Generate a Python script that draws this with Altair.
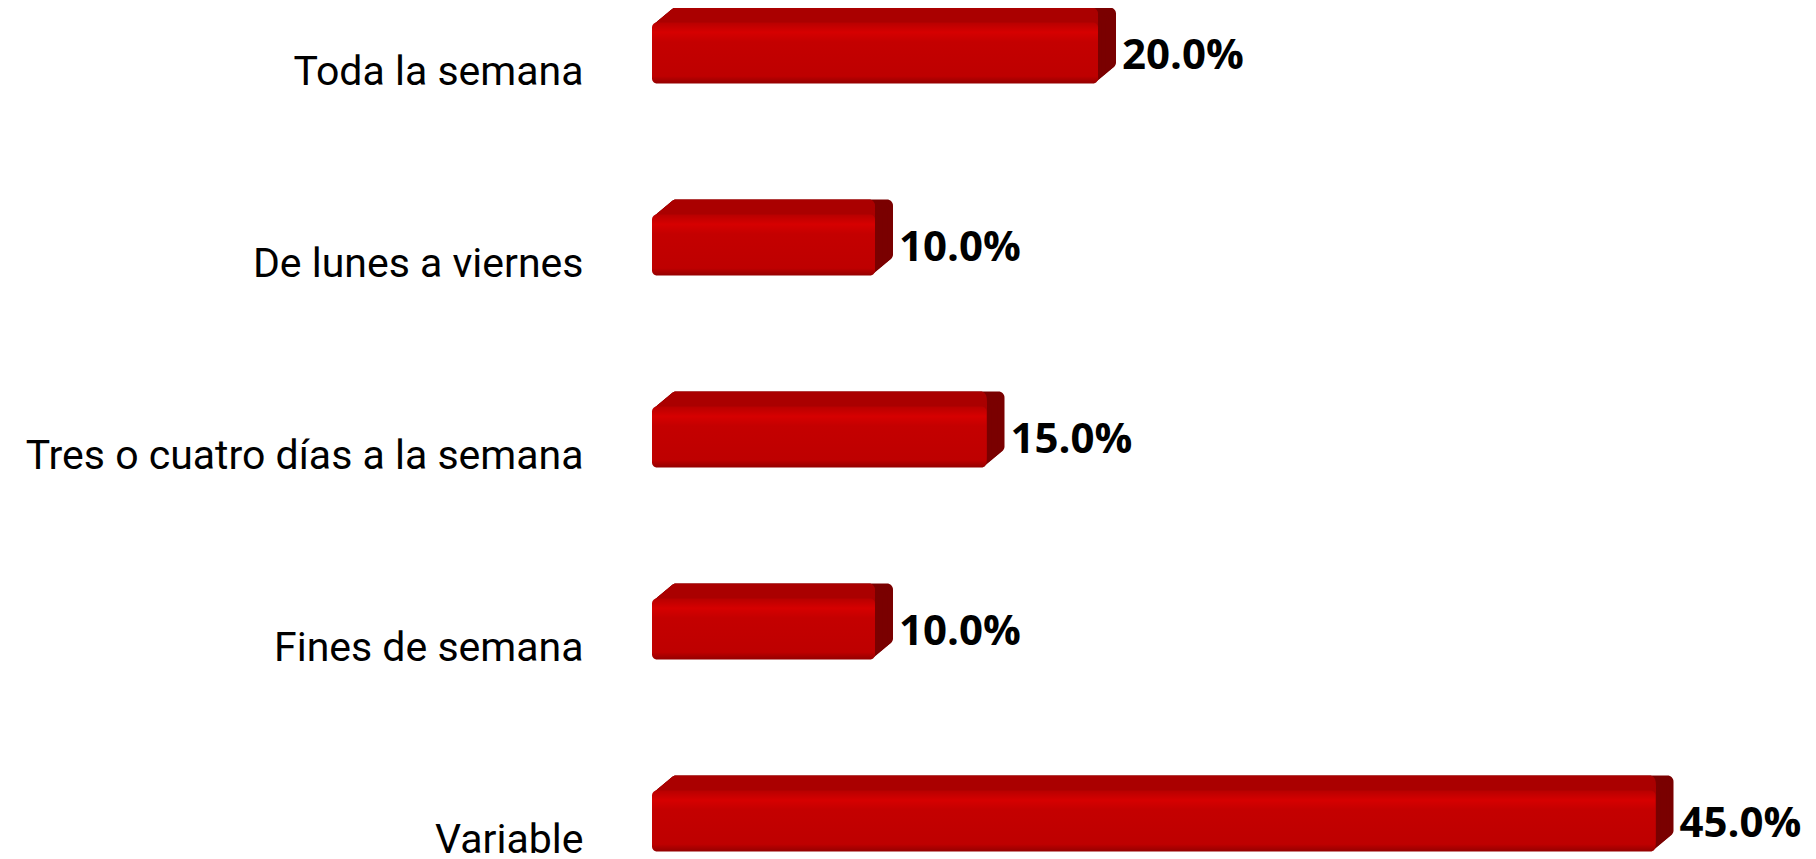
import altair as alt
import pandas as pd

categories = ["Toda la semana", "De lunes a viernes", "Tres o cuatro días a la semana",
              "Fines de semana", "Variable"]
values = [20.0, 10.0, 15.0, 10.0, 45.0]
value_labels = ["20.0%", "10.0%", "15.0%", "10.0%", "45.0%"]

df = pd.DataFrame({"cat": categories, "val": values, "lab": value_labels,
                   "pos": list(range(len(categories)))})

# layout constants (pixels)
PLOT_W, PLOT_H = 1115, 851
X_MAX = 50.0
PXP = PLOT_W / X_MAX          # pixels per percent
ROW = 192.0                   # pixels per category row
TOP0 = 64.0                   # first row centre from plot top
BAR = 61.0                    # front face thickness
CENTER = -19.0                # front face centre relative to label centre
N = 10
DEPTH_X, DEPTH_Y = 18.0, -15.0

xs = alt.Scale(domain=[0, X_MAX])
ys = alt.Scale(domain=[-TOP0 / ROW, (PLOT_H - TOP0) / ROW], reverse=True, nice=False, zero=False)

label_expr = "[" + ",".join("'" + c + "'" for c in categories) + "][datum.value]"
yaxis = alt.Axis(title=None, domain=False, ticks=False, grid=False,
                 values=list(range(len(categories))), labelExpr=label_expr,
                 labelFont="Roboto", labelFontSize=41, labelColor="black",
                 labelPadding=69, labelLimit=900, labelBaseline="middle")


def slab(dx, dy, color, shift_left=True, shift_right=True, radius=6):
    lx = dx / PXP if shift_left else 0.0
    rx = dx / PXP if shift_right else 0.0
    return (
        alt.Chart()
        .transform_calculate(
            x0=f"{lx}",
            x1=f"datum.val + {rx}",
            y0=f"datum.pos + {(CENTER - BAR / 2 + dy) / ROW}",
            y1=f"datum.pos + {(CENTER + BAR / 2 + dy) / ROW}",
        )
        .mark_rect(color=color, cornerRadius=radius)
        .encode(
            x=alt.X("x0:Q", scale=xs, axis=None),
            x2="x1:Q",
            y=alt.Y("y0:Q", scale=ys, axis=yaxis),
            y2="y1:Q",
        )
    )


layers = []
# right side of the extrusion (darker)
for k in range(N, 0, -1):
    layers.append(slab(k * DEPTH_X / N, k * DEPTH_Y / N, "#7A0000"))
# top face of the extrusion
for k in range(N, 0, -1):
    layers.append(slab(k * DEPTH_X / N, k * DEPTH_Y / N, "#AA0000", shift_right=False))

front_fill = alt.Gradient(
    gradient="linear",
    stops=[
        alt.GradientStop(color="#B80000", offset=0),
        alt.GradientStop(color="#D60000", offset=0.16),
        alt.GradientStop(color="#C40000", offset=0.32),
        alt.GradientStop(color="#BE0000", offset=0.88),
        alt.GradientStop(color="#940000", offset=1),
    ],
    x1=0, x2=0, y1=0, y2=1,
)
layers.append(slab(0, 0, front_fill, radius=5))

layers.append(
    alt.Chart()
    .mark_text(align="left", baseline="middle", dx=24, dy=-16,
               font="Open Sans", fontSize=42, fontWeight="bold", color="black")
    .encode(
        x=alt.X("val:Q", scale=xs, axis=None),
        y=alt.Y("pos:Q", scale=ys, axis=yaxis),
        text="lab:N",
    )
)

chart = (
    alt.layer(*layers, data=df)
    .properties(width=PLOT_W, height=PLOT_H, background="white",
                autosize=alt.AutoSizeParams(type="none"),
                padding={"left": 644, "top": 0, "right": 41, "bottom": 0})
    .configure_view(stroke="transparent", strokeWidth=0)
)

chart.save("out.html", embed_options={"renderer": "svg", "actions": False})
